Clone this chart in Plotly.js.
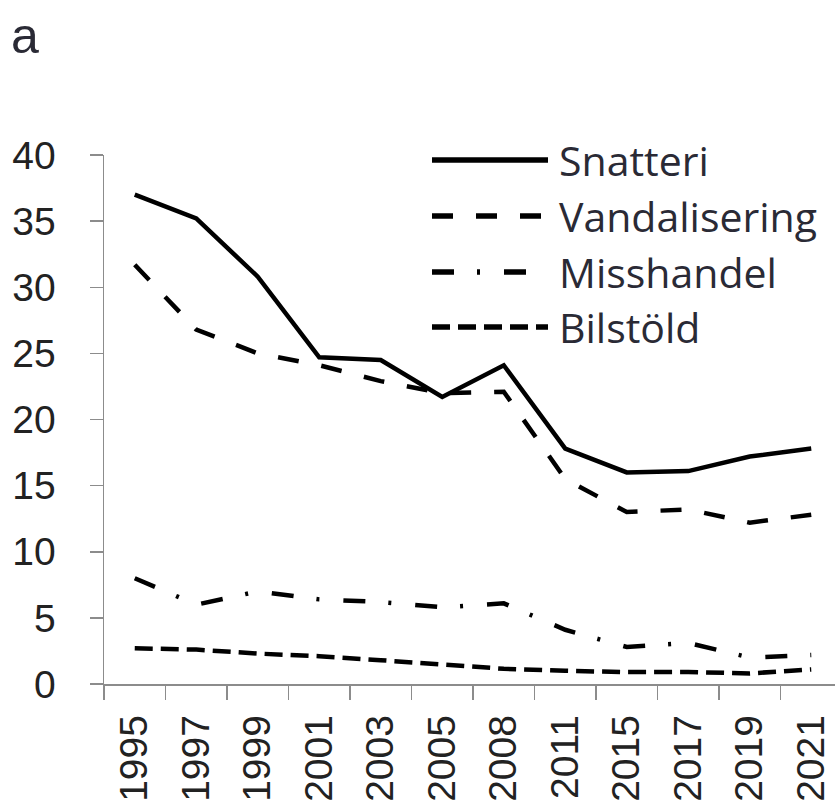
<!DOCTYPE html>
<html>
<head>
<meta charset="utf-8">
<script src="https://cdn.plot.ly/plotly-3.0.1.min.js"></script>
<style>html,body{margin:0;padding:0;background:#fff;}#chart{width:835px;height:802px;}</style>
</head>
<body>
<div id="chart"></div>
<script>
// ---- data ----
var years = ['1995','1997','1999','2001','2003','2005','2008','2011','2015','2017','2019','2021'];
var snatteri      = [37.0, 35.2, 30.8, 24.7, 24.5, 21.7, 24.1, 17.8, 16.0, 16.1, 17.2, 17.8];
var vandalisering = [31.7, 26.8, 25.0, 24.1, 22.9, 22.0, 22.1, 15.5, 13.0, 13.2, 12.2, 12.8];
var misshandel    = [8.0, 6.0, 7.0, 6.4, 6.2, 5.8, 6.1, 4.1, 2.8, 3.1, 2.0, 2.2];
var bilstold      = [2.7, 2.6, 2.3, 2.1, 1.8, 1.5, 1.15, 1.0, 0.9, 0.9, 0.8, 1.1];
var seriesNames = ['Snatteri', 'Vandalisering', 'Misshandel', 'Bilstöld'];
var yTicks = [0, 5, 10, 15, 20, 25, 30, 35, 40];
var panelLabel = 'a';

// ---- styles ----
var dashes = ['solid', '21px,23px', '22px,23px,3px,24px', '18px,8px'];
var allSeries = [snatteri, vandalisering, misshandel, bilstold];

var traces = allSeries.map(function (vals, i) {
  return {
    type: 'scatter', mode: 'lines', x: years, y: vals, name: seriesNames[i],
    line: { color: '#000', width: 4.5, dash: dashes[i] },
    showlegend: false, hoverinfo: 'skip'
  };
});

// plot-area geometry helpers (px -> paper)
var L = 104, R = 835, T = 155, B = 684;
function px(x) { return (x - L) / (R - L); }
function py(y) { return (B - y) / (B - T); }

var shapes = [], annotations = [];
var rowY = [160, 216, 272, 327];
seriesNames.forEach(function (n, i) {
  shapes.push({ type: 'line', xref: 'paper', yref: 'paper',
    x0: px(432), x1: px(548), y0: py(rowY[i]), y1: py(rowY[i]),
    line: { color: '#000', width: 5.5, dash: dashes[i] } });
  annotations.push({ xref: 'paper', yref: 'paper', x: px(557), y: py(rowY[i]),
    xanchor: 'left', yanchor: 'middle', showarrow: false, text: n,
    font: { family: 'Open Sans, sans-serif', size: 41, color: '#2a2a35' } });
});
annotations.push({ xref: 'paper', yref: 'paper', x: px(25), y: py(36),
  xanchor: 'center', yanchor: 'middle', showarrow: false, text: panelLabel,
  font: { family: 'Liberation Sans, Arial, sans-serif', size: 50, color: '#2a2a35' } });

var layout = {
  width: 835, height: 802,
  margin: { l: L, r: 0, t: T, b: 802 - B, pad: 0 },
  paper_bgcolor: '#fff', plot_bgcolor: '#fff',
  showlegend: false,
  font: { family: 'Liberation Sans, Arial, sans-serif', color: '#222' },
  xaxis: {
    type: 'category', range: [-0.5, -0.5 + (R - L) / 61.5],
    showgrid: false, zeroline: false,
    showline: true, linecolor: '#8c8c8c', linewidth: 1.5,
    ticks: 'outside', tickson: 'boundaries', ticklen: 14, tickcolor: '#8c8c8c', tickwidth: 1.5,
    tickangle: -90, tickfont: { size: 39, color: '#222' }, ticklabelstandoff: 14,
    fixedrange: true
  },
  yaxis: {
    range: [0, 40], tickvals: yTicks, ticktext: yTicks.map(String),
    showgrid: false, zeroline: false,
    showline: true, linecolor: '#8c8c8c', linewidth: 1.5,
    ticks: 'outside', ticklen: 13, tickcolor: '#8c8c8c', tickwidth: 1.5,
    tickfont: { size: 39, color: '#222' }, ticklabelstandoff: 26,
    fixedrange: true
  },
  shapes: shapes,
  annotations: annotations
};

Plotly.newPlot('chart', traces, layout, { displayModeBar: false, staticPlot: true });
</script>
</body>
</html>
